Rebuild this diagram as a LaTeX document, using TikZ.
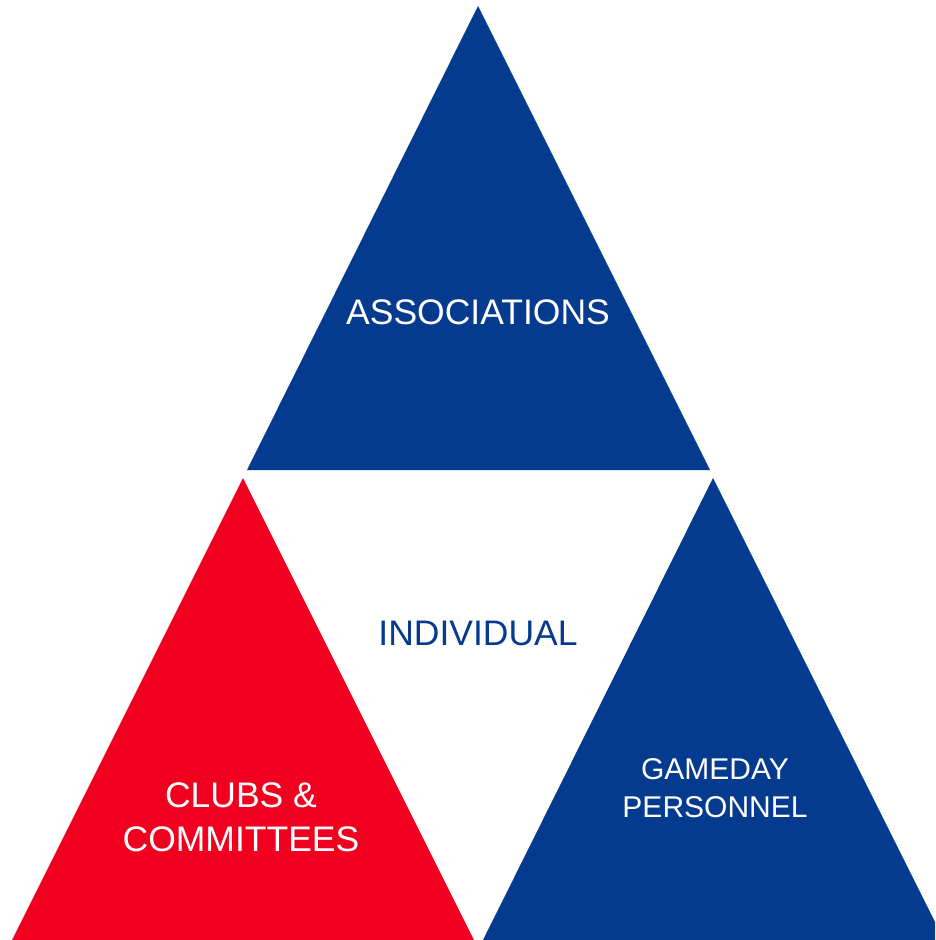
\documentclass[tikz,border=0pt]{standalone}
\usepackage{fontspec}
\setmainfont{Liberation Sans}
\definecolor{tblue}{HTML}{043B8E}
\definecolor{tred}{HTML}{F0001E}
\begin{document}
\begin{tikzpicture}[x=1pt,y=-1pt,
  lbl/.style={font=\fontsize{35.5}{44}\selectfont, text=white, align=center, inner sep=0pt},
  lblsmall/.style={font=\fontsize{30}{38}\selectfont, text=white, align=center, inner sep=0pt}]
  \useasboundingbox (0,0) rectangle (935,940);
  \clip (0,0) rectangle (935,940);
  % triangle corners
  \coordinate (tA) at (478,6);
  \coordinate (tL) at (247,470);
  \coordinate (tR) at (710,470);
  \coordinate (lA) at (243,478);
  \coordinate (lL) at (12,940);
  \coordinate (lR) at (474,940);
  \coordinate (rA) at (713,478);
  \coordinate (rL) at (483,940);
  \coordinate (rR) at (944,940);
  % three triangles
  \fill[tblue] (tA) -- (tR) -- (tL) -- cycle;
  \fill[tred] (lA) -- (lR) -- (lL) -- cycle;
  \fill[tblue] (rA) -- (rR) -- (rL) -- cycle;
  % labels
  \node[lbl, anchor=base] (assoc) at (478,324) {ASSOCIATIONS};
  \node[lbl, anchor=base, text=tblue] (indiv) at (478,645) {INDIVIDUAL};
  \node[lbl, anchor=base] (clubs1) at (241,807) {CLUBS \&};
  \node[lbl, anchor=base] (clubs2) at (241,851) {COMMITTEES};
  \node[lblsmall, anchor=base] (game1) at (715,779) {GAMEDAY};
  \node[lblsmall, anchor=base] (game2) at (715,817) {PERSONNEL};
\end{tikzpicture}
\end{document}
